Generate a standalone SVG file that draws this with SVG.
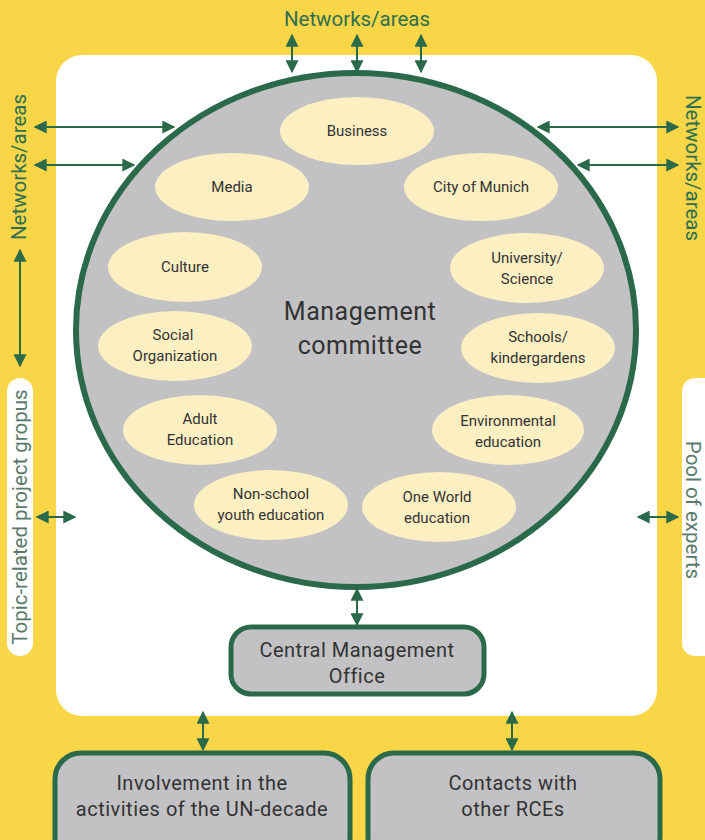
<svg xmlns="http://www.w3.org/2000/svg" width="705" height="840" viewBox="0 0 705 840">
<style>
.conn line{stroke:#2A6A4A;stroke-width:2;marker-start:url(#ah);marker-end:url(#ah)}
.oval{fill:#FCEFC2}
.lbl{font-family:"Roboto","Liberation Sans",sans-serif;font-size:15px;fill:#333;text-anchor:middle}
.box{fill:#C2C2C4;stroke:#2A6A4A;stroke-width:5}
.btxt{font-family:"Roboto","Liberation Sans",sans-serif;font-size:20px;fill:#333;text-anchor:middle;letter-spacing:0.5px}
.net{font-family:"Roboto","Liberation Sans",sans-serif;font-size:20.5px;fill:#2E7050;text-anchor:middle}
.side{font-family:"Roboto","Liberation Sans",sans-serif;font-size:20.5px;fill:#5A7A6C;text-anchor:middle}
</style>
<defs>
<marker id="ah" viewBox="0 0 10 10" refX="9" refY="5" markerWidth="6.5" markerHeight="6.5" orient="auto-start-reverse" markerUnits="strokeWidth">
<path d="M0,0 L10,5 L0,10 Z" fill="#2A6A4A"/>
</marker>
</defs>
<rect width="705" height="840" fill="#F9D548"/>
<rect x="56" y="55" width="601" height="661" rx="26" fill="#FFFFFF"/>
<g id="pool-left"><rect x="7" y="378" width="26" height="278" rx="13" fill="#FFFFFF"/>
<text class="side" transform="translate(27,517) rotate(-90)">Topic-related project gropus</text></g>
<g id="pool-right"><rect x="682" y="378" width="40" height="278" rx="13" fill="#FFFFFF"/>
<text class="side" transform="translate(686,510) rotate(90)">Pool of experts</text></g>
<g id="net-top"><text class="net" x="357" y="26">Networks/areas</text></g>
<g id="net-left"><text class="net" transform="translate(26,167) rotate(-90)">Networks/areas</text></g>
<g id="net-right"><text class="net" transform="translate(686,168) rotate(90)">Networks/areas</text></g>
<g id="committee">
<ellipse cx="356" cy="330" rx="280" ry="257" fill="#C2C2C4" stroke="#2A6A4A" stroke-width="6"/>
<text class="btxt" x="360" y="320" style="font-size:25px">Management</text>
<text class="btxt" x="360" y="354" style="font-size:25px">committee</text>
</g>
<g id="business"><ellipse class="oval" cx="357" cy="131" rx="77" ry="34"/><text class="lbl" x="357" y="136">Business</text></g>
<g id="media"><ellipse class="oval" cx="232" cy="187" rx="77" ry="34"/><text class="lbl" x="232" y="192">Media</text></g>
<g id="munich"><ellipse class="oval" cx="481" cy="187" rx="77" ry="34"/><text class="lbl" x="481" y="192">City of Munich</text></g>
<g id="culture"><ellipse class="oval" cx="185" cy="267" rx="77" ry="35"/><text class="lbl" x="185" y="272">Culture</text></g>
<g id="university"><ellipse class="oval" cx="527" cy="268" rx="77" ry="35"/><text class="lbl" x="527" y="263">University/</text><text class="lbl" x="527" y="284">Science</text></g>
<g id="social"><ellipse class="oval" cx="175" cy="346" rx="77" ry="35"/><text class="lbl" x="173" y="340">Social</text><text class="lbl" x="175" y="361">Organization</text></g>
<g id="schools"><ellipse class="oval" cx="538" cy="348" rx="77" ry="35"/><text class="lbl" x="538" y="342">Schools/</text><text class="lbl" x="538" y="363">kindergardens</text></g>
<g id="adult"><ellipse class="oval" cx="200" cy="430" rx="77" ry="35"/><text class="lbl" x="200" y="424">Adult</text><text class="lbl" x="200" y="445">Education</text></g>
<g id="environmental"><ellipse class="oval" cx="508" cy="430" rx="76" ry="35"/><text class="lbl" x="508" y="426">Environmental</text><text class="lbl" x="508" y="447">education</text></g>
<g id="nonschool"><ellipse class="oval" cx="271" cy="505" rx="77" ry="35"/><text class="lbl" x="271" y="499">Non-school</text><text class="lbl" x="271" y="520">youth education</text></g>
<g id="oneworld"><ellipse class="oval" cx="439" cy="507" rx="77" ry="35"/><text class="lbl" x="437" y="502">One World</text><text class="lbl" x="437" y="523">education</text></g>
<g id="cmo"><rect class="box" x="231" y="627" width="253" height="67" rx="20"/>
<text class="btxt" x="357" y="657">Central Management</text><text class="btxt" x="357" y="683">Office</text></g>
<g id="undecade"><rect class="box" x="55" y="753" width="295" height="110" rx="26"/>
<text class="btxt" x="202" y="790">Involvement in the</text><text class="btxt" x="202" y="816">activities of the UN-decade</text></g>
<g id="rces"><rect class="box" x="368" y="753" width="292" height="110" rx="26"/>
<text class="btxt" x="513" y="790">Contacts with</text><text class="btxt" x="513" y="816">other RCEs</text></g>
<g class="conn" id="connectors">
<line x1="292" y1="35" x2="292" y2="72"/>
<line x1="357" y1="35" x2="357" y2="72"/>
<line x1="421" y1="35" x2="421" y2="72"/>
<line x1="35" y1="127" x2="174" y2="127"/>
<line x1="35" y1="165" x2="134" y2="165"/>
<line x1="538" y1="127" x2="678" y2="127"/>
<line x1="578" y1="165" x2="678" y2="165"/>
<line x1="20" y1="250" x2="20" y2="366"/>
<line x1="37" y1="517" x2="75" y2="517"/>
<line x1="638" y1="517" x2="678" y2="517"/>
<line x1="357" y1="589" x2="357" y2="625"/>
<line x1="203" y1="712" x2="203" y2="750"/>
<line x1="512" y1="712" x2="512" y2="750"/>
</g>
</svg>
